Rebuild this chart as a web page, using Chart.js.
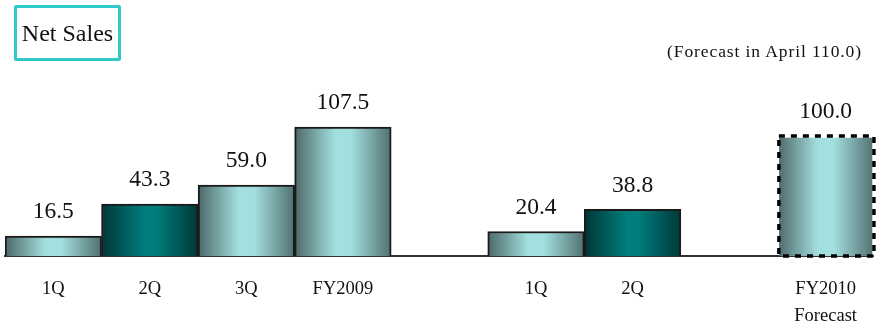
<!DOCTYPE html>
<html lang="en">
<head>
  <meta charset="UTF-8" />
  <title>Net Sales</title>
  <script src="https://cdn.jsdelivr.net/npm/chart.js"></script>
  <style>
    body {
      margin: 0;
      background: #ffffff;
      font-family: 'Liberation Serif', 'DejaVu Serif', serif;
    }
    .wrap {
      position: relative;
      width: 877px;
      height: 321px;
    }
    .title-box {
      position: absolute;
      left: 14px;
      top: 5px;
      width: 101px;
      height: 50px;
      border: 3px solid #2ecaca;
      border-radius: 2px;
      font-size: 24px;
      line-height: 50px;
      text-align: center;
      color: #111;
    }
    .note {
      position: absolute;
      right: 15px;
      top: 41px;
      font-size: 17.5px;
      letter-spacing: 0.9px;
      color: #111;
    }
  </style>
</head>
<body>
  <div class="wrap">
    <canvas id="salesChart" width="877" height="321"></canvas>
    <div class="title-box">Net Sales</div>
    <div class="note">(Forecast in April 110.0)</div>
  </div>

  <script>
    // quarters of FY2009, blank slot, FY2010 quarters, blank slot, FY2010 forecast
    const categories = ['1Q', '2Q', '3Q', 'FY2009', '', '1Q', '2Q', '', ['FY2010', 'Forecast']];
    const netSales = [16.5, 43.3, 59.0, 107.5, null, 20.4, 38.8, null, 100.0];
    const darkBars = [1, 6];      // 2Q bars use the deep teal fill
    const forecastBars = [8];     // drawn with a dashed outline

    const serif = "'Liberation Serif', 'DejaVu Serif', serif";

    function barFill(ctx) {
      const chart = ctx.chart;
      const x = chart.scales.x;
      if (!chart.chartArea || !x) return '#8fcccc';
      const w = x.width / categories.length;
      const cx = x.getPixelForValue(ctx.dataIndex);
      const g = chart.ctx.createLinearGradient(cx - w / 2, 0, cx + w / 2, 0);
      if (darkBars.includes(ctx.dataIndex)) {
        g.addColorStop(0, '#003636');
        g.addColorStop(0.45, '#007e7e');
        g.addColorStop(0.55, '#007e7e');
        g.addColorStop(1, '#003838');
      } else {
        g.addColorStop(0, '#4c6868');
        g.addColorStop(0.42, '#a4dfdf');
        g.addColorStop(0.58, '#a4dfdf');
        g.addColorStop(1, '#507070');
      }
      return g;
    }

    const barExtras = {
      id: 'barExtras',
      afterDatasetsDraw(chart) {
        const c = chart.ctx;
        const meta = chart.getDatasetMeta(0);
        c.save();
        // dashed outline for the forecast bar
        forecastBars.forEach(i => {
          const el = meta.data[i];
          if (!el || netSales[i] == null) return;
          const p = el.getProps(['x', 'y', 'width', 'base'], true);
          c.setLineDash([6, 6]);
          c.lineWidth = 3.5;
          c.strokeStyle = '#000';
          c.strokeRect(p.x - p.width / 2 + 1.5, p.y, p.width - 1.5, p.base - p.y);
        });
        c.setLineDash([]);
        // value labels above each bar
        c.font = '23.5px ' + serif;
        c.fillStyle = '#111';
        c.textAlign = 'center';
        c.textBaseline = 'middle';
        meta.data.forEach((el, i) => {
          if (netSales[i] == null) return;
          const p = el.getProps(['x', 'y'], true);
          c.fillText(netSales[i].toFixed(1), p.x, p.y - 24);
        });
        c.restore();
      }
    };

    new Chart(document.getElementById('salesChart'), {
      type: 'bar',
      data: {
        labels: categories,
        datasets: [{
          data: netSales,
          backgroundColor: barFill,
          borderColor: ctx => forecastBars.includes(ctx.dataIndex) ? 'rgba(0,0,0,0)' : '#1a1a1a',
          borderWidth: 2,
          borderSkipped: 'bottom',
          categoryPercentage: 1.0,
          barPercentage: 1.0
        }]
      },
      options: {
        responsive: false,
        animation: false,
        layout: { padding: { left: 5, right: 0, top: 76, bottom: 0 } },
        plugins: {
          legend: { display: false },
          tooltip: { enabled: false }
        },
        scales: {
          x: {
            grid: { display: false, drawTicks: false },
            border: { display: true, color: '#333', width: 2 },
            afterFit: s => { s.height = 65; },
            ticks: {
              color: '#111',
              padding: 20,
              maxRotation: 0,
              autoSkip: false,
              font: { family: serif, size: 18.5, lineHeight: 1.43 }
            }
          },
          y: {
            display: false,
            min: 0,
            max: 150
          }
        }
      },
      plugins: [barExtras]
    });
  </script>
</body>
</html>
